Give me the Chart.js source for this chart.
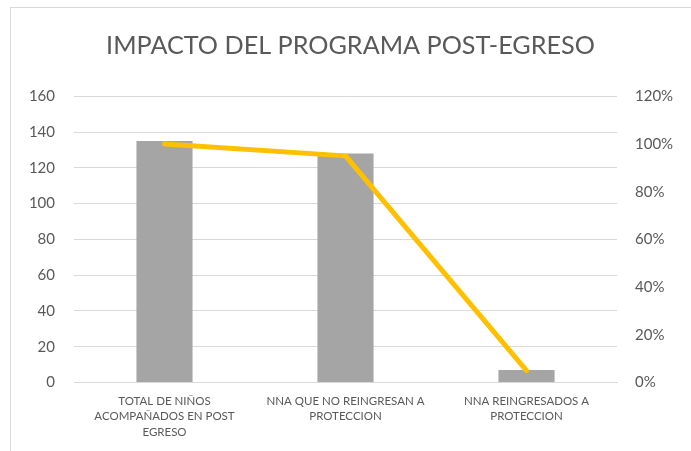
<!DOCTYPE html>
<html>
<head>
<meta charset="utf-8">
<script src="https://cdn.jsdelivr.net/npm/chart.js@4"></script>
<style>
  html, body { margin: 0; padding: 0; background: #fff; overflow: hidden; }
  #wrap { position: relative; width: 691px; height: 451px; }
  #frame { position: absolute; left: 10px; top: 7px; width: 700px; height: 470px; border: 1px solid #d9d9d9; box-sizing: border-box; }
  canvas { position: absolute; left: 0; top: 0; }
</style>
</head>
<body>
<div id="wrap">
  <div id="frame"></div>
  <canvas id="impactChart" width="691" height="451"></canvas>
</div>
<script>
  // ===== Data =====
  const categories = [
    ["TOTAL DE NIÑOS", "ACOMPAÑADOS EN POST", "EGRESO"],
    ["NNA QUE NO REINGRESAN A", "PROTECCION"],
    ["NNA REINGRESADOS A", "PROTECCION"]
  ];
  const countValues = [135, 128, 7];
  const percentValues = [1.00, 0.95, 0.05];
  const leftTicks = [0, 20, 40, 60, 80, 100, 120, 140, 160];
  const rightTicks = [0, 0.2, 0.4, 0.6, 0.8, 1.0, 1.2];

  const FONT = "Lato, 'Open Sans', sans-serif";
  const TEXT = "#595959";
  const GRID = "#d9d9d9";

  const ctx = document.getElementById("impactChart").getContext("2d");
  new Chart(ctx, {
    type: "bar",
    data: {
      labels: categories,
      datasets: [
        {
          type: "line",
          label: "Porcentaje",
          data: percentValues,
          yAxisID: "y1",
          borderColor: "#FFC000",
          borderWidth: 5,
          borderCapStyle: "round",
          borderJoinStyle: "round",
          pointRadius: 0,
          tension: 0,
          fill: false,
          order: 0
        },
        {
          label: "Cantidad",
          data: countValues,
          yAxisID: "y",
          backgroundColor: "#A5A5A5",
          categoryPercentage: 1,
          barPercentage: 0.31,
          order: 1
        }
      ]
    },
    options: {
      responsive: false,
      animation: false,
      // frame starts at x=10, so centre the title over the frame
      layout: { padding: { left: 10, right: 0, top: 0, bottom: 0 } },
      plugins: {
        legend: { display: false },
        tooltip: { enabled: false },
        title: {
          display: true,
          text: "IMPACTO DEL PROGRAMA POST-EGRESO",
          color: TEXT,
          font: { family: FONT, size: 25.2, weight: "normal", lineHeight: 1.2 },
          padding: { top: 31, bottom: 35 }
        }
      },
      scales: {
        x: {
          grid: { display: false, drawTicks: false },
          border: { display: true, color: GRID, width: 1 },
          ticks: {
            color: TEXT,
            padding: 11,
            maxRotation: 0,
            autoSkip: false,
            font: { family: FONT, size: 11.5, lineHeight: 1.35 }
          },
          afterFit: (scale) => { scale.height = 68.5; }
        },
        y: {
          position: "left",
          min: 0,
          max: 160,
          afterBuildTicks: (scale) => { scale.ticks = leftTicks.map(v => ({ value: v })); },
          grid: { color: GRID, lineWidth: 1, drawTicks: false },
          border: { display: false },
          ticks: {
            color: TEXT,
            padding: 19,
            font: { family: FONT, size: 15 }
          },
          afterFit: (scale) => { scale.width = 64; }
        },
        y1: {
          position: "right",
          min: 0,
          max: 1.2,
          afterBuildTicks: (scale) => { scale.ticks = rightTicks.map(v => ({ value: v })); },
          grid: { display: false, drawTicks: false },
          border: { display: false },
          ticks: {
            color: TEXT,
            padding: 18,
            font: { family: FONT, size: 15 },
            callback: (v) => Math.round(v * 100) + "%"
          },
          afterFit: (scale) => { scale.width = 74; }
        }
      }
    }
  });
</script>
</body>
</html>
